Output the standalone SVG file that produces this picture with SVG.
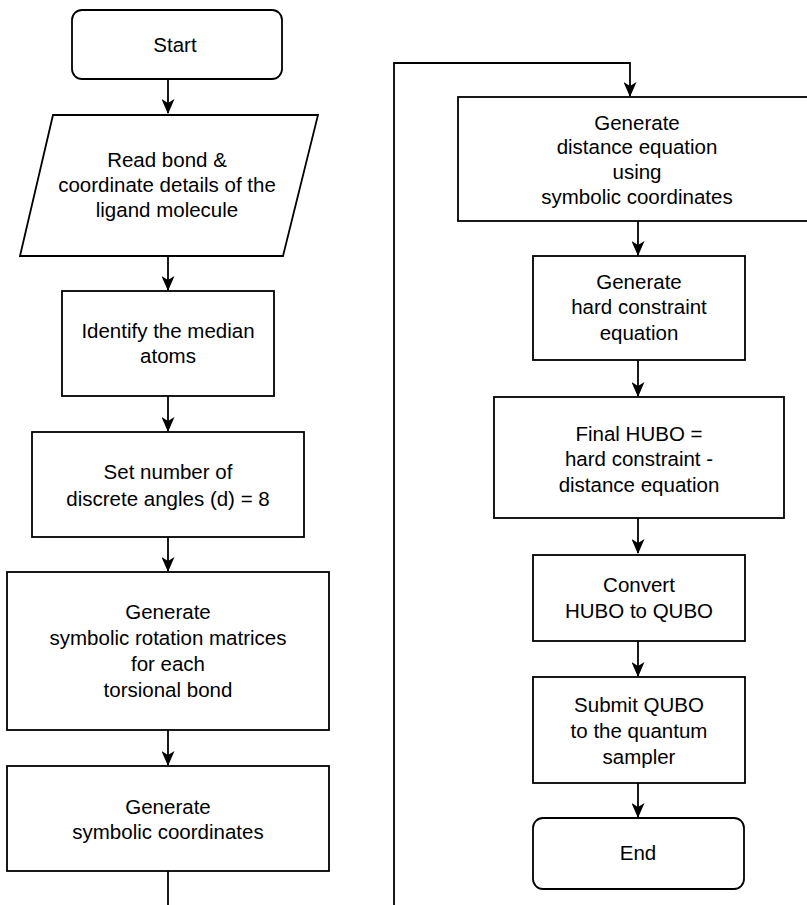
<svg xmlns="http://www.w3.org/2000/svg" width="807" height="905" viewBox="0 0 807 905">
<defs>
<marker id="arr" markerUnits="userSpaceOnUse" viewBox="0 0 15 13" markerWidth="15" markerHeight="13" refX="14" refY="6.5" orient="auto">
<path d="M0,0 L15,6.5 L0,13 L4,6.5 Z" fill="#000"/>
</marker>
<style>
.n{fill:#fff;stroke:#000;stroke-width:1.8}
.t{font-family:"Liberation Sans",Arial,Helvetica,sans-serif;font-size:20.5px;fill:#000;text-anchor:middle}
.c{fill:none;stroke:#000;stroke-width:1.8}
</style>
</defs>
<rect width="807" height="905" fill="#fff"/>
<g id="connectors">
<path class="c" d="M168,79 V113" marker-end="url(#arr)"/>
<path class="c" d="M168,256 V290" marker-end="url(#arr)"/>
<path class="c" d="M168,396 V431" marker-end="url(#arr)"/>
<path class="c" d="M168,537 V571" marker-end="url(#arr)"/>
<path class="c" d="M168,730 V765" marker-end="url(#arr)"/>
<path class="c" d="M168,871 V905"/>
<path class="c" d="M394,905 V63 H630 V96" marker-end="url(#arr)"/>
<path class="c" d="M638,221 V255" marker-end="url(#arr)"/>
<path class="c" d="M638,360 V396" marker-end="url(#arr)"/>
<path class="c" d="M638,518 V553" marker-end="url(#arr)"/>
<path class="c" d="M638,641 V676" marker-end="url(#arr)"/>
<path class="c" d="M638,783 V817" marker-end="url(#arr)"/>
</g>
<g id="start">
<rect class="n" x="72" y="10" width="210" height="69" rx="10"/>
<text class="t" x="175" y="52">Start</text>
</g>
<g id="read">
<polygon class="n" points="53,115 318,115 283,256 20,256"/>
<text class="t" x="167" y="167">Read bond &amp;</text>
<text class="t" x="167" y="192">coordinate details of the</text>
<text class="t" x="167" y="217">ligand molecule</text>
</g>
<g id="identify">
<rect class="n" x="62" y="291" width="212" height="105"/>
<text class="t" x="168" y="338">Identify the median</text>
<text class="t" x="168" y="363">atoms</text>
</g>
<g id="setangles">
<rect class="n" x="32" y="432" width="272" height="105"/>
<text class="t" x="168" y="479">Set number of</text>
<text class="t" x="168" y="506">discrete angles (d) = 8</text>
</g>
<g id="rotation">
<rect class="n" x="7" y="572" width="322" height="158"/>
<text class="t" x="168" y="619">Generate</text>
<text class="t" x="168" y="645">symbolic rotation matrices</text>
<text class="t" x="168" y="671">for each</text>
<text class="t" x="168" y="697">torsional bond</text>
</g>
<g id="symcoords">
<rect class="n" x="7" y="766" width="322" height="105"/>
<text class="t" x="168" y="814">Generate</text>
<text class="t" x="168" y="839">symbolic coordinates</text>
</g>
<g id="distance">
<rect class="n" x="458" y="97" width="360" height="124"/>
<text class="t" x="637" y="130">Generate</text>
<text class="t" x="637" y="154">distance equation</text>
<text class="t" x="637" y="179">using</text>
<text class="t" x="637" y="204">symbolic coordinates</text>
</g>
<g id="hard">
<rect class="n" x="533" y="256" width="212" height="104"/>
<text class="t" x="639" y="289">Generate</text>
<text class="t" x="639" y="314">hard constraint</text>
<text class="t" x="639" y="340">equation</text>
</g>
<g id="hubo">
<rect class="n" x="494" y="397" width="290" height="121"/>
<text class="t" x="639" y="441">Final HUBO =</text>
<text class="t" x="639" y="466">hard constraint -</text>
<text class="t" x="639" y="492">distance equation</text>
</g>
<g id="convert">
<rect class="n" x="533" y="555" width="212" height="86"/>
<text class="t" x="639" y="592">Convert</text>
<text class="t" x="639" y="618">HUBO to QUBO</text>
</g>
<g id="submit">
<rect class="n" x="533" y="677" width="212" height="106"/>
<text class="t" x="639" y="712">Submit QUBO</text>
<text class="t" x="639" y="738">to the quantum</text>
<text class="t" x="639" y="764">sampler</text>
</g>
<g id="end">
<rect class="n" x="533" y="818" width="211" height="71" rx="10"/>
<text class="t" x="638" y="860">End</text>
</g>
</svg>
